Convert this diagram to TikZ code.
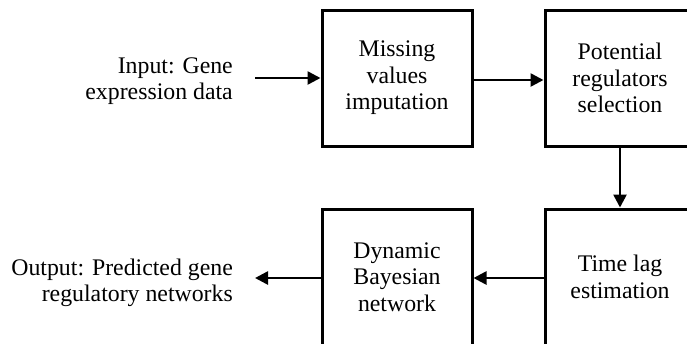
\documentclass[tikz,border=0pt]{standalone}
\usepackage{fontspec}
\setmainfont{Liberation Serif}
\usetikzlibrary{arrows.meta}

\begin{document}
\begin{tikzpicture}[x=1bp, y=-1bp,
  block/.style={draw, line width=3bp, minimum width=150bp, minimum height=136bp, align=center, inner sep=0pt},
  label text/.style={align=right, anchor=east, inner sep=0pt},
  flow/.style={line width=2.6bp, -{Triangle[length=13bp, width=13bp]}},
  every node/.style={font=\fontsize{23.8bp}{26.5bp}\selectfont}]
\useasboundingbox (0,0) rectangle (687,343);
\node[block] (impute) at (397,78) {Missing\\values\\imputation};
\node[block] (select) at (620,78) {Potential\\regulators\\selection};
\node[block] (timelag) at (620,277) {Time lag\\estimation};
\node[block] (dbn) at (397,277) {Dynamic\\Bayesian\\network};
\node[label text] (input) at (233,81) {Input: Gene\\expression data};
\node[label text] (output) at (233,283) {Output: Predicted gene\\regulatory networks};
\coordinate (instart) at (255,78);
\coordinate (outend) at (255,278);
% arrows
\draw[flow] (instart) -- (impute.west |- instart);
\draw[flow] (impute.east |- 0,80) -- (select.west |- 0,80);
\draw[flow] (select.south) -- (timelag.north);
\draw[flow] (timelag.west |- outend) -- (dbn.east |- outend);
\draw[flow] (dbn.west |- outend) -- (outend);
\end{tikzpicture}
\end{document}
